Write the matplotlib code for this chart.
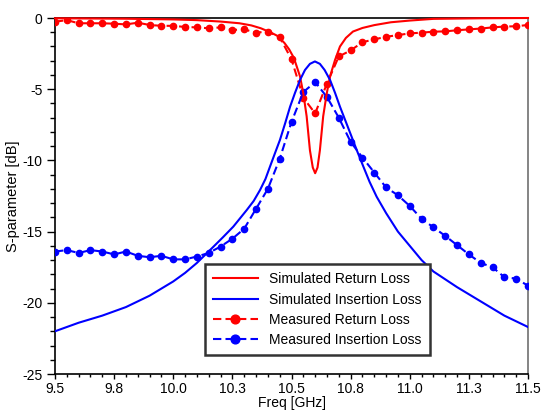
import numpy as np
import matplotlib
matplotlib.use("Agg")
import matplotlib.pyplot as plt
from matplotlib.ticker import MultipleLocator

plt.rcParams['font.family'] = ['Liberation Sans', 'DejaVu Sans']
plt.rcParams['axes.unicode_minus'] = False

# simulated S21 / S11
sim_il_f = [9.50, 9.60, 9.70, 9.80, 9.90, 10.00, 10.05, 10.10, 10.17, 10.21, 10.254,
            10.311, 10.34, 10.367, 10.39, 10.409, 10.43, 10.451, 10.473, 10.494, 10.515,
            10.536, 10.557, 10.578, 10.599, 10.62, 10.64, 10.663, 10.684, 10.705, 10.73,
            10.754, 10.78, 10.804, 10.83, 10.86, 10.90, 10.95, 11.00, 11.05, 11.10,
            11.20, 11.30, 11.40, 11.50]
sim_il = [-22.0, -21.4, -20.9, -20.3, -19.5, -18.5, -17.9, -17.2, -16.06, -15.4, -14.65,
          -13.48, -12.85, -12.08, -11.3, -10.44, -9.5, -8.57, -7.4, -6.23, -5.25,
          -4.35, -3.65, -3.22, -3.05, -3.22, -3.65, -4.35, -5.25, -6.23, -7.3,
          -8.33, -9.45, -10.44, -11.5, -12.55, -13.7, -15.0, -16.0, -17.0, -17.8,
          -18.9, -19.9, -20.9, -21.7]

sim_rl_f = [9.50, 9.80, 10.00, 10.10, 10.20, 10.28, 10.33, 10.37, 10.41, 10.44, 10.47,
            10.49, 10.51, 10.536, 10.55, 10.564, 10.578, 10.59, 10.60, 10.61, 10.62,
            10.634, 10.649, 10.663, 10.684, 10.705, 10.73, 10.76, 10.80, 10.85, 10.92,
            11.00, 11.10, 11.30, 11.50]
sim_rl = [-0.02, -0.05, -0.1, -0.15, -0.25, -0.37, -0.52, -0.72, -1.0, -1.25, -1.75,
          -2.2, -2.8, -4.1, -5.3, -6.9, -9.3, -10.5, -10.9, -10.5, -9.3,
          -6.9, -5.3, -4.1, -2.95, -2.0, -1.4, -0.95, -0.7, -0.5, -0.3,
          -0.18, -0.06, -0.02, 0.0]

# measured data
meas_f = [9.50, 9.55, 9.60, 9.65, 9.70, 9.75, 9.80, 9.85, 9.90, 9.95, 10.00,
          10.05, 10.10, 10.15, 10.20, 10.25, 10.30, 10.35, 10.40, 10.45, 10.50,
          10.55, 10.60, 10.65, 10.70, 10.75, 10.80, 10.85, 10.90, 10.95, 11.00,
          11.05, 11.10, 11.15, 11.20, 11.25, 11.30, 11.35, 11.40, 11.45, 11.50]
meas_rl = [-0.26, -0.15, -0.37, -0.37, -0.37, -0.40, -0.45, -0.33, -0.49, -0.55, -0.55,
           -0.63, -0.66, -0.72, -0.66, -0.84, -0.80, -1.03, -0.95, -1.35, -2.9,
           -5.6, -6.7, -4.6, -2.7, -2.28, -1.7, -1.5, -1.32, -1.2, -1.08,
           -1.03, -0.96, -0.94, -0.86, -0.80, -0.74, -0.66, -0.60, -0.58, -0.49]
meas_il = [-16.4, -16.3, -16.5, -16.3, -16.4, -16.6, -16.4, -16.7, -16.8, -16.7, -16.95,
           -16.95, -16.75, -16.5, -16.05, -15.5, -14.8, -13.4, -12.0, -9.9, -7.3,
           -5.2, -4.5, -5.55, -7.0, -8.7, -9.8, -10.85, -11.9, -12.45, -13.2,
           -14.1, -14.7, -15.3, -15.95, -16.6, -17.2, -17.5, -18.2, -18.3, -18.8]

xticks = [9.5, 9.75, 10.0, 10.25, 10.5, 10.75, 11.0, 11.25, 11.5]
xticklabels = ['9.5', '9.8', '10.0', '10.3', '10.5', '10.8', '11.0', '11.3', '11.5']

fig = plt.figure(figsize=(5.41, 4.12), dpi=100)
ax = fig.add_axes([55 / 541, 1 - 374 / 412, 473 / 541, 356 / 412])

ax.plot(sim_rl_f, sim_rl, color='#ff0000', lw=1.5, label='Simulated Return Loss', clip_on=False, zorder=4)
ax.plot(sim_il_f, sim_il, color='#0000ff', lw=1.5, label='Simulated Insertion Loss', zorder=4)
ax.plot(meas_f, meas_rl, color='#ff0000', lw=1.5, ls=(0, (4, 2)), marker='o', ms=4.5,
        label='Measured Return Loss', zorder=3)
ax.plot(meas_f, meas_il, color='#0000ff', lw=1.5, ls=(0, (4, 2)), marker='o', ms=4.5,
        label='Measured Insertion Loss', zorder=3)

ax.set_xlim(9.5, 11.5)
ax.set_ylim(-25, 0)
ax.set_xticks(xticks)
ax.set_xticklabels(xticklabels)
ax.xaxis.set_minor_locator(MultipleLocator(0.05))
ax.yaxis.set_major_locator(MultipleLocator(5))
ax.yaxis.set_minor_locator(MultipleLocator(1))
ax.tick_params(which='both', direction='out', width=1, labelsize=10, colors='black')
ax.tick_params(axis='y', which='major', length=6, pad=3)
ax.tick_params(axis='y', which='minor', length=3.5)
ax.tick_params(axis='x', which='major', length=3.5, pad=2)
ax.tick_params(axis='x', which='minor', length=2.5)

for s in ['left', 'bottom', 'top']:
    ax.spines[s].set_color('black')
    ax.spines[s].set_linewidth(1.2)
ax.spines['right'].set_color('#707070')
ax.spines['right'].set_linewidth(1.2)

ax.set_xlabel('Freq [GHz]', fontsize=10)
ax.set_ylabel('S-parameter [dB]', fontsize=10.5)
ax.xaxis.set_label_coords(0.5, -0.063)
ax.yaxis.set_label_coords(-0.073, 0.5)

leg = ax.legend(loc='upper left', bbox_to_anchor=(0.317, 0.309), borderaxespad=0,
                fancybox=False, framealpha=1, edgecolor='#333333', fontsize=10,
                handlelength=3.2, labelspacing=0.45, borderpad=0.6, markerscale=1.4)
leg.get_frame().set_linewidth(1.8)
leg.set_zorder(10)

fig.savefig('out.png', dpi=100)
